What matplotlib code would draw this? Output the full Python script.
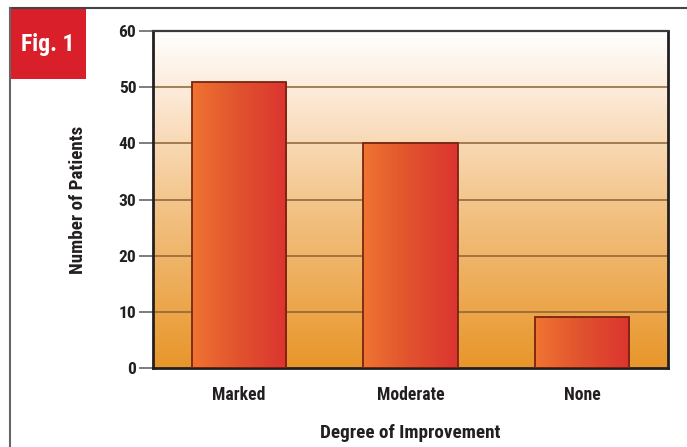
import numpy as np
import matplotlib
matplotlib.use("Agg")
import matplotlib.pyplot as plt
from matplotlib import font_manager
from matplotlib.colors import LinearSegmentedColormap
from matplotlib.lines import Line2D
from matplotlib.patches import Rectangle

categories = ["Marked", "Moderate", "None"]
patients = [51, 40, 9]
yticks = [0, 10, 20, 30, 40, 50, 60]

names = {f.name for f in font_manager.fontManager.ttflist}
fam = next((n for n in ["Roboto Condensed", "Barlow Semi Condensed", "Barlow Condensed"] if n in names), "DejaVu Sans")
plt.rcParams['font.family'] = [fam, 'DejaVu Sans']

fig = plt.figure(figsize=(6.87, 4.47), dpi=100)
W, H = 687, 447
ax = fig.add_axes([153 / W, 1 - 368 / H, 515 / W, 337 / H])

bg = LinearSegmentedColormap.from_list("bg", [(0, "#E8962A"), (0.45, "#F2C080"), (0.8, "#FCE8D4"), (1.0, "#FFFFFF")])
grad = np.linspace(0, 1, 256).reshape(-1, 1)
ax.imshow(grad, cmap=bg, origin="lower", extent=[-0.5, 2.5, 0, 60], aspect="auto", zorder=0)

for v in yticks[1:-1]:
    ax.axhline(v, color="#8C6236", lw=1.1, zorder=1)

x = np.arange(len(categories))
bars = ax.bar(x, patients, width=0.55, facecolor="none", edgecolor="#7A2410", lw=1.3, zorder=3)
barcm = LinearSegmentedColormap.from_list("bar", ["#F07432", "#E0522E", "#DC3430"])
hgrad = np.linspace(0, 1, 256).reshape(1, -1)
for b in bars:
    im = ax.imshow(hgrad, cmap=barcm, extent=[b.get_x(), b.get_x() + b.get_width(), 0, b.get_height()],
                   aspect="auto", zorder=2)
    im.set_clip_path(b)

ax.set_xlim(-0.5, 2.5)
ax.set_ylim(0, 60)
ax.set_yticks(yticks)
ax.set_yticklabels([str(v) for v in yticks], fontsize=12.5, fontweight="bold", color="#231F20")
ax.set_xticks(x)
ax.set_xticklabels(categories, fontsize=12.7, fontweight="bold", color="#231F20")
ax.tick_params(axis="y", length=10, width=1.1, color="#5A5A5A", pad=2)
ax.tick_params(axis="x", length=0, pad=13)
for s in ["left", "bottom", "right"]:
    ax.spines[s].set_linewidth(2)
    ax.spines[s].set_color("#231F20")
ax.spines["top"].set_linewidth(1.6)
ax.spines["top"].set_color("#3A3A3A")

ax.set_ylabel("Number of Patients", fontsize=13.7, fontweight="bold", color="#231F20", labelpad=23)
ax.set_xlabel("Degree of Improvement", fontsize=13.8, fontweight="bold", color="#231F20", labelpad=14)

fig.add_artist(Line2D([10 / W, 1], [1 - 8 / H, 1 - 8 / H], color="#444444", lw=1.5))
fig.add_artist(Line2D([10 / W, 10 / W], [0, 1 - 8 / H], color="#666666", lw=1.5))
fig.add_artist(Rectangle((11 / W, 1 - 79 / H), 75 / W, 70 / H, facecolor="#D9202A", edgecolor="none"))
fig.text(48 / W, 1 - 44 / H, "Fig. 1", color="white", fontsize=17, fontweight="bold", ha="center", va="center")

fig.savefig("out.png", dpi=100)
